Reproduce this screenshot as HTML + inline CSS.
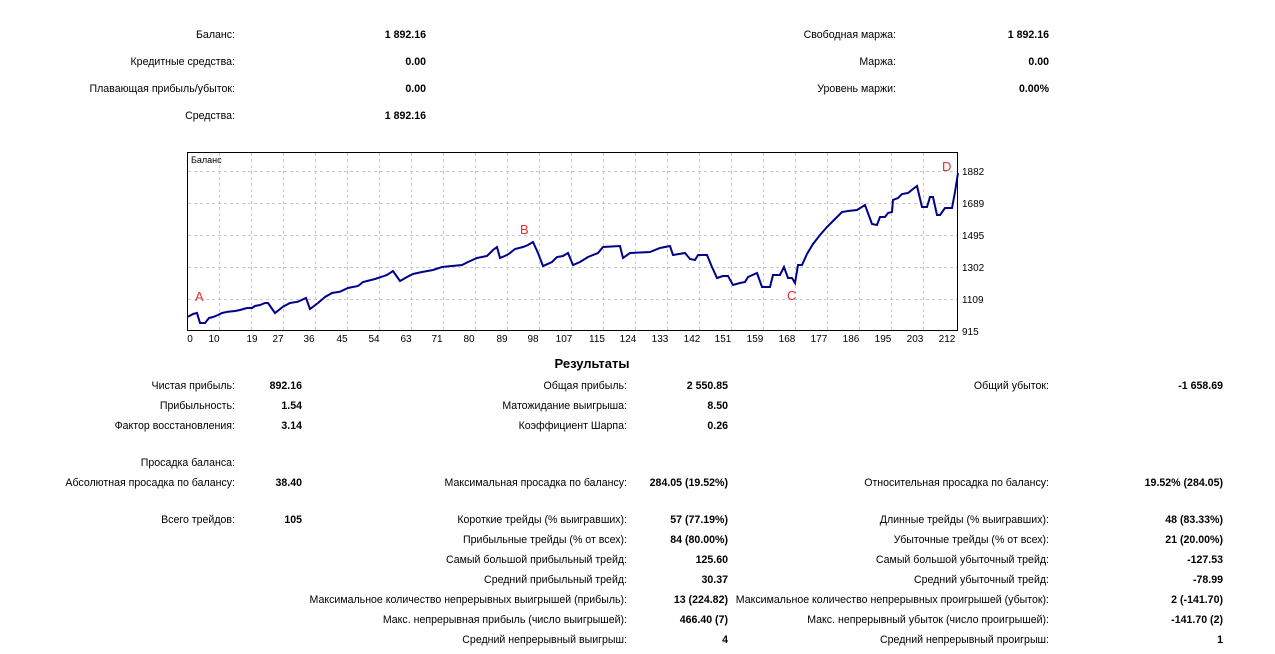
<!DOCTYPE html>
<html><head><meta charset="utf-8"><style>
body{margin:0;width:1275px;height:654px;background:#fff;position:relative;overflow:hidden;font-family:"Liberation Sans","DejaVu Sans",sans-serif;font-size:10.6px;color:#000}
.t{position:absolute;white-space:nowrap;line-height:14px;text-align:right;margin-top:1px}
.b{font-weight:bold}
</style></head><body>
<div class="t" style="right:1040px;top:27px">Баланс:</div><div class="t b" style="right:849px;top:27px">1 892.16</div>
<div class="t" style="right:1040px;top:54px">Кредитные средства:</div><div class="t b" style="right:849px;top:54px">0.00</div>
<div class="t" style="right:1040px;top:81px">Плавающая прибыль/убыток:</div><div class="t b" style="right:849px;top:81px">0.00</div>
<div class="t" style="right:1040px;top:108px">Средства:</div><div class="t b" style="right:849px;top:108px">1 892.16</div>
<div class="t" style="right:379px;top:27px">Свободная маржа:</div><div class="t b" style="right:226px;top:27px">1 892.16</div>
<div class="t" style="right:379px;top:54px">Маржа:</div><div class="t b" style="right:226px;top:54px">0.00</div>
<div class="t" style="right:379px;top:81px">Уровень маржи:</div><div class="t b" style="right:226px;top:81px">0.00%</div>

<svg style="position:absolute;left:0;top:0" width="1275" height="654">
<g stroke="#c8c8c8" stroke-dasharray="3,3" stroke-width="1">
<line x1="188" y1="171.5" x2="957" y2="171.5"/><line x1="188" y1="203.5" x2="957" y2="203.5"/><line x1="188" y1="235.5" x2="957" y2="235.5"/><line x1="188" y1="267.5" x2="957" y2="267.5"/><line x1="188" y1="299.5" x2="957" y2="299.5"/>
<line x1="219.5" y1="153" x2="219.5" y2="330"/><line x1="251.5" y1="153" x2="251.5" y2="330"/><line x1="283.5" y1="153" x2="283.5" y2="330"/><line x1="315.5" y1="153" x2="315.5" y2="330"/><line x1="347.5" y1="153" x2="347.5" y2="330"/><line x1="379.5" y1="153" x2="379.5" y2="330"/><line x1="411.5" y1="153" x2="411.5" y2="330"/><line x1="443.5" y1="153" x2="443.5" y2="330"/><line x1="475.5" y1="153" x2="475.5" y2="330"/><line x1="507.5" y1="153" x2="507.5" y2="330"/><line x1="539.5" y1="153" x2="539.5" y2="330"/><line x1="571.5" y1="153" x2="571.5" y2="330"/><line x1="603.5" y1="153" x2="603.5" y2="330"/><line x1="635.5" y1="153" x2="635.5" y2="330"/><line x1="667.5" y1="153" x2="667.5" y2="330"/><line x1="699.5" y1="153" x2="699.5" y2="330"/><line x1="731.5" y1="153" x2="731.5" y2="330"/><line x1="763.5" y1="153" x2="763.5" y2="330"/><line x1="795.5" y1="153" x2="795.5" y2="330"/><line x1="827.5" y1="153" x2="827.5" y2="330"/><line x1="859.5" y1="153" x2="859.5" y2="330"/><line x1="891.5" y1="153" x2="891.5" y2="330"/><line x1="923.5" y1="153" x2="923.5" y2="330"/>
</g>
<rect x="187.5" y="152.5" width="770" height="178" fill="none" stroke="#000"/>
<polyline fill="none" stroke="#00008b" stroke-width="2" points="188,316.7 193,314 197,313 200,323 205,323 209,318 213,317 218,315 222,313 228,311.7 235,311 240,310 247,308 252,308 255,306 260,305 265,303 268,303 275,313 283,306.7 290,303 298,301.7 306,298 310,309 318,303 325,297 332,293 340,291.7 348,288 358,286 363,282 375,279 387,275 393,271 400,281 407,277 413,274 422,272 433,270 442,267 452,266 462,265 468,262 477,258 487,256 493,250 497,247 500,258 507,255 510,253 515,249 523,247 528,245 533,242 538,253 543,266 552,262 557,257 563,256 568,253 573,265 580,262 588,257 598,253 603,247 620,246 623,258 630,253 650,252 660,248 670,246 673,255 685,253 690,259 695,260 698,255 707,255 712,267 717,278 723,276 728,276 733,285 740,283 745,282 748,277 757,273 762,287 770,287 773,275 780,275 784,267 788,278 792,278 795,283 798,265 802,265 807,254 813,244 820,235 827,227 835,219 842,212 848,211 857,210 865,205 872,224 877,225 880,217 885,217 888,213 892,212 893,200 898,198 902,194 908,193 913,189 917,186 922,207 927,207 930,197 933,197 937,215 940,215 945,208 952,208 955,192 958,173"/>
<g font-family="Liberation Sans, sans-serif" font-size="13" fill="#e03030">
<text x="195" y="301">A</text><text x="520" y="234">B</text><text x="787" y="300">C</text><text x="942" y="171">D</text></g>
<text x="191" y="163" font-size="9" font-family="Liberation Sans, sans-serif">Баланс</text>
<g font-size="10" font-family="Liberation Sans, sans-serif" text-anchor="middle">
<text x="190" y="342">0</text><text x="214" y="342">10</text><text x="252" y="342">19</text><text x="278" y="342">27</text><text x="309" y="342">36</text><text x="342" y="342">45</text><text x="374" y="342">54</text><text x="406" y="342">63</text><text x="437" y="342">71</text><text x="469" y="342">80</text><text x="502" y="342">89</text><text x="533" y="342">98</text><text x="564" y="342">107</text><text x="597" y="342">115</text><text x="628" y="342">124</text><text x="660" y="342">133</text><text x="692" y="342">142</text><text x="723" y="342">151</text><text x="755" y="342">159</text><text x="787" y="342">168</text><text x="819" y="342">177</text><text x="851" y="342">186</text><text x="883" y="342">195</text><text x="915" y="342">203</text><text x="947" y="342">212</text></g>
<g font-size="10" font-family="Liberation Sans, sans-serif">
<text x="962" y="175">1882</text><text x="962" y="207">1689</text><text x="962" y="239">1495</text><text x="962" y="271">1302</text><text x="962" y="303">1109</text><text x="962" y="335">915</text></g>
</svg>

<div class="t b" style="left:0;width:1184px;text-align:center;top:355px;font-size:13px;line-height:16px">Результаты</div>
<div class="t" style="right:1040px;top:378px">Чистая прибыль:</div><div class="t b" style="right:973px;top:378px">892.16</div>
<div class="t" style="right:1040px;top:398px">Прибыльность:</div><div class="t b" style="right:973px;top:398px">1.54</div>
<div class="t" style="right:1040px;top:418px">Фактор восстановления:</div><div class="t b" style="right:973px;top:418px">3.14</div>
<div class="t" style="right:1040px;top:455px">Просадка баланса:</div>
<div class="t" style="right:1040px;top:475px">Абсолютная просадка по балансу:</div><div class="t b" style="right:973px;top:475px">38.40</div>
<div class="t" style="right:1040px;top:512px">Всего трейдов:</div><div class="t b" style="right:973px;top:512px">105</div>

<div class="t" style="right:648px;top:378px">Общая прибыль:</div><div class="t b" style="right:547px;top:378px">2 550.85</div>
<div class="t" style="right:648px;top:398px">Матожидание выигрыша:</div><div class="t b" style="right:547px;top:398px">8.50</div>
<div class="t" style="right:648px;top:418px">Коэффициент Шарпа:</div><div class="t b" style="right:547px;top:418px">0.26</div>
<div class="t" style="right:648px;top:475px">Максимальная просадка по балансу:</div><div class="t b" style="right:547px;top:475px">284.05 (19.52%)</div>
<div class="t" style="right:648px;top:512px">Короткие трейды (% выигравших):</div><div class="t b" style="right:547px;top:512px">57 (77.19%)</div>
<div class="t" style="right:648px;top:532px">Прибыльные трейды (% от всех):</div><div class="t b" style="right:547px;top:532px">84 (80.00%)</div>
<div class="t" style="right:648px;top:552px">Самый большой прибыльный трейд:</div><div class="t b" style="right:547px;top:552px">125.60</div>
<div class="t" style="right:648px;top:572px">Средний прибыльный трейд:</div><div class="t b" style="right:547px;top:572px">30.37</div>
<div class="t" style="right:648px;top:592px">Максимальное количество непрерывных выигрышей (прибыль):</div><div class="t b" style="right:547px;top:592px">13 (224.82)</div>
<div class="t" style="right:648px;top:612px">Макс. непрерывная прибыль (число выигрышей):</div><div class="t b" style="right:547px;top:612px">466.40 (7)</div>
<div class="t" style="right:648px;top:632px">Средний непрерывный выигрыш:</div><div class="t b" style="right:547px;top:632px">4</div>

<div class="t" style="right:226px;top:378px">Общий убыток:</div><div class="t b" style="right:52px;top:378px">-1 658.69</div>
<div class="t" style="right:226px;top:475px">Относительная просадка по балансу:</div><div class="t b" style="right:52px;top:475px">19.52% (284.05)</div>
<div class="t" style="right:226px;top:512px">Длинные трейды (% выигравших):</div><div class="t b" style="right:52px;top:512px">48 (83.33%)</div>
<div class="t" style="right:226px;top:532px">Убыточные трейды (% от всех):</div><div class="t b" style="right:52px;top:532px">21 (20.00%)</div>
<div class="t" style="right:226px;top:552px">Самый большой убыточный трейд:</div><div class="t b" style="right:52px;top:552px">-127.53</div>
<div class="t" style="right:226px;top:572px">Средний убыточный трейд:</div><div class="t b" style="right:52px;top:572px">-78.99</div>
<div class="t" style="right:226px;top:592px">Максимальное количество непрерывных проигрышей (убыток):</div><div class="t b" style="right:52px;top:592px">2 (-141.70)</div>
<div class="t" style="right:226px;top:612px">Макс. непрерывный убыток (число проигрышей):</div><div class="t b" style="right:52px;top:612px">-141.70 (2)</div>
<div class="t" style="right:226px;top:632px">Средний непрерывный проигрыш:</div><div class="t b" style="right:52px;top:632px">1</div>
</body></html>
